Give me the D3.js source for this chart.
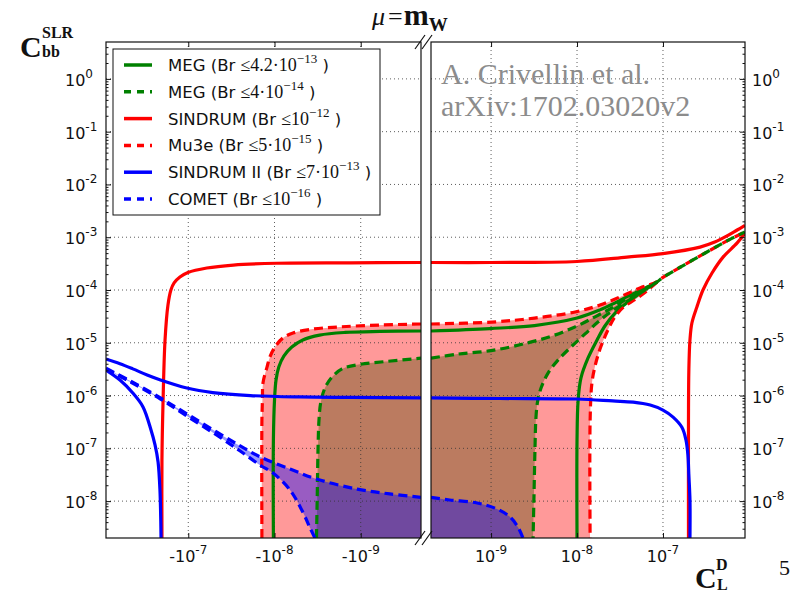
<!DOCTYPE html>
<html>
<head>
<meta charset="utf-8">
<script src="https://cdn.jsdelivr.net/npm/d3@7"></script>
<style>
  body { margin: 0; background: #fff; }
</style>
</head>
<body>
<svg id="chart" width="792" height="594"></svg>
<script>
// ---- values: [C_L^D, C_bb^SLR] ----
var megLeft = [[-1.03e-8, 2e-9], [-1.03e-8, 1.44e-7], [-1.0e-8, 8.2e-7], [-9.6e-9, 1.97e-6], [-8.9e-9, 3.5e-6], [-7.8e-9, 5.6e-6], [-6.3e-9, 8.3e-6], [-4.7e-9, 1.13e-5], [-3.0e-9, 1.4e-5], [-1.52e-9, 1.57e-5], [-6.0e-10, 1.64e-5], [-2e-10, 1.67e-5]];
var megRightUpper = [[2e-10, 1.67e-5], [9.7e-10, 1.86e-5], [3.2e-9, 2.12e-5], [1.0e-8, 2.94e-5], [1.85e-8, 4.2e-5], [2.77e-8, 5.7e-5], [4.1e-8, 7.9e-5], [6.2e-8, 1.08e-4], [8.5e-8, 1.42e-4]];
var megRightLower = [[8.5e-8, 1.42e-4], [5.7e-8, 9.2e-5], [3.9e-8, 5.9e-5], [2.77e-8, 3.66e-5], [2.11e-8, 2.08e-5], [1.71e-8, 1.13e-5], [1.34e-8, 5.1e-6], [1.11e-8, 2.15e-6], [1.03e-8, 8.2e-7], [1.0e-8, 1.44e-7], [1.0e-8, 2e-9]];

var megFutLeft = [[-3.26e-9, 2e-9], [-3.2e-9, 1.05e-8], [-3.13e-9, 9.3e-8], [-3.05e-9, 3.4e-7], [-2.9e-9, 7.6e-7], [-2.6e-9, 1.39e-6], [-2.2e-9, 2.15e-6], [-1.65e-9, 3.2e-6], [-1.02e-9, 3.9e-6], [-5.2e-10, 4.4e-6], [-2e-10, 5.1e-6]];
var megFutRightUpper = [[2e-10, 5.1e-6], [4.1e-10, 6.1e-6], [1.0e-9, 7.1e-6], [2.5e-9, 9.7e-6], [5.1e-9, 1.34e-5], [9.5e-9, 2.0e-5], [1.62e-8, 3.1e-5], [2.55e-8, 4.6e-5], [4.1e-8, 7.4e-5], [6.2e-8, 1.04e-4], [8.5e-8, 1.42e-4]];
var megFutRightLower = [[8.5e-8, 1.42e-4], [6.2e-8, 1.0e-4], [4.1e-8, 6.5e-5], [2.55e-8, 4.0e-5], [1.75e-8, 2.47e-5], [1.24e-8, 1.47e-5], [8.5e-9, 8.3e-6], [6.0e-9, 4.7e-6], [4.6e-9, 2.67e-6], [3.85e-9, 1.45e-6], [3.5e-9, 8.2e-7], [3.33e-9, 3.9e-7], [3.24e-9, 9.3e-8], [3.15e-9, 1.05e-8], [3.08e-9, 2e-9]];

// where the MEG / Mu3e contours pinch together and run on to the edge
var cuspTail = [[8.5e-8, 1.42e-4], [1.0e-7, 1.73e-4], [1.8e-7, 3.04e-4], [3.25e-7, 5.25e-4], [5.55e-7, 8.5e-4], [9e-7, 1.26e-3]];

var sindrumLeft = [[-2.02e-7, 2e-9], [-2.02e-7, 6e-8], [-1.96e-7, 8.2e-7], [-1.86e-7, 1.13e-5], [-1.72e-7, 5.2e-5], [-1.59e-7, 1.0e-4], [-1.46e-7, 1.36e-4], [-1.25e-7, 1.76e-4], [-1.01e-7, 2.14e-4], [-6.1e-8, 2.61e-4], [-3.0e-8, 2.97e-4], [-9.4e-9, 3.21e-4], [-1.3e-9, 3.27e-4], [-2e-10, 3.32e-4]];
var sindrumRightUpper = [[2e-10, 3.32e-4], [1e-9, 3.32e-4], [1e-8, 3.47e-4], [3.8e-8, 4.2e-4], [1e-7, 4.9e-4], [2.7e-7, 6.5e-4], [4.0e-7, 8.1e-4], [5.5e-7, 1.05e-3], [7.3e-7, 1.37e-3], [9e-7, 1.67e-3]];
var sindrumRightLower = [[1.98e-7, 2e-9], [1.98e-7, 3.4e-7], [2.0e-7, 3.05e-6], [2.06e-7, 1.13e-5], [2.17e-7, 2.37e-5], [2.48e-7, 4.77e-5], [2.92e-7, 1.0e-4], [3.72e-7, 2.1e-4], [5.0e-7, 4.2e-4], [7.3e-7, 7.8e-4], [9e-7, 1.2e-3]];

var mu3eLeft = [[-1.40e-8, 2e-9], [-1.40e-8, 3.4e-7], [-1.38e-8, 8.2e-7], [-1.36e-8, 1.73e-6], [-1.22e-8, 3.5e-6], [-1.13e-8, 5.4e-6], [-9.9e-9, 8.3e-6], [-8.0e-9, 1.23e-5], [-6.1e-9, 1.53e-5], [-3.6e-9, 1.82e-5], [-1.74e-9, 2.0e-5], [-6.0e-10, 2.17e-5], [-2e-10, 2.27e-5]];
var mu3eRightUpper = [[2e-10, 2.27e-5], [1.03e-9, 2.47e-5], [3.2e-9, 2.94e-5], [9.5e-9, 3.83e-5], [1.85e-8, 5.2e-5], [3.16e-8, 7.4e-5], [5.4e-8, 1.09e-4], [8.5e-8, 1.42e-4]];
var mu3eRightLower = [[8.5e-8, 1.42e-4], [6.5e-8, 9.6e-5], [4.8e-8, 6.7e-5], [3.5e-8, 4.8e-5], [2.7e-8, 2.94e-5], [2.23e-8, 1.6e-5], [1.85e-8, 7.6e-6], [1.62e-8, 3.6e-6], [1.49e-8, 1.73e-6], [1.42e-8, 3.4e-7], [1.42e-8, 2e-9]];

var sindrum2Upper = [[-9e-7, 4.9e-6], [-6.2e-7, 4.0e-6], [-4.4e-7, 3.2e-6], [-3.0e-7, 2.45e-6], [-2.1e-7, 1.97e-6], [-1.04e-7, 1.39e-6], [-5.2e-8, 1.14e-6], [-1.9e-8, 1.0e-6], [-5.1e-9, 9.4e-7], [-1.3e-9, 9.2e-7], [-2e-10, 9.0e-7]];
var sindrum2Lower = [[-9e-7, 3.05e-6], [-6.2e-7, 1.97e-6], [-4.4e-7, 1.12e-6], [-3.35e-7, 6.1e-7], [-2.7e-7, 2.2e-7], [-2.43e-7, 1.16e-7], [-2.24e-7, 5.5e-8], [-2.13e-7, 1.6e-8], [-2.07e-7, 2e-9]];
var sindrum2Right = [[2e-10, 9.0e-7], [1.27e-9, 8.8e-7], [1.0e-8, 8.6e-7], [2.6e-8, 7.9e-7], [4.5e-8, 7.5e-7], [7.1e-8, 6.6e-7], [1.0e-7, 5.3e-7], [1.31e-7, 3.9e-7], [1.66e-7, 2.5e-7], [1.85e-7, 1.44e-7], [1.95e-7, 7.5e-8], [2.0e-7, 3.1e-8], [2.06e-7, 1.05e-8], [2.06e-7, 2e-9]];

var cometLeftUpper = [[-9e-7, 3.3e-6], [-4.7e-7, 1.89e-6], [-2.1e-7, 9.0e-7], [-1.04e-7, 4.5e-7], [-4.7e-8, 2.04e-7], [-2.5e-8, 1.11e-7], [-1.47e-8, 6.9e-8], [-6.6e-9, 4.05e-8], [-3.2e-9, 2.6e-8], [-1.1e-9, 1.69e-8], [-4.6e-10, 1.37e-8], [-2e-10, 1.18e-8]];
var cometLeftLower = [[-9e-7, 3.2e-6], [-4.7e-7, 1.81e-6], [-2.1e-7, 8.6e-7], [-1.04e-7, 4.1e-7], [-4.7e-8, 1.79e-7], [-2.5e-8, 8.9e-8], [-1.47e-8, 4.8e-8], [-1.04e-8, 3.4e-8], [-6.6e-9, 1.62e-8], [-4.7e-9, 6.2e-9], [-3.9e-9, 3.2e-9], [-3.4e-9, 2e-9]];
var cometRight = [[2e-10, 1.18e-8], [3.3e-10, 1.05e-8], [6.9e-10, 9.2e-9], [1.17e-9, 7.1e-9], [1.66e-9, 5.0e-9], [2.06e-9, 3.2e-9], [2.35e-9, 2e-9]];

// ticks
var yTickExps = [-8, -7, -6, -5, -4, -3, -2, -1, 0];
var xTickExps = [-9, -8, -7];

// legend
var legendNames = ["MEG", "MEG", "SINDRUM", "Mu3e", "SINDRUM II", "COMET"];
var legendBounds = ["4.2\u00b710", "4\u00b710", "10", "5\u00b710", "7\u00b710", "10"];
var legendExps = ["\u221213", "\u221214", "\u221212", "\u221215", "\u221213", "\u221216"];
var legendColors = ["#008000", "#008000", "#ff0000", "#ff0000", "#0000ff", "#0000ff"];
var legendDashed = [false, true, false, true, false, true];

var svg = d3.select("#chart");

var plotTop = 42, plotBottom = 538;
var y = d3.scaleLog().domain([2e-9, 5]).range([plotBottom, plotTop]);
var xLeft = d3.scaleLog().domain([9e-7, 2e-10]).range([106, 421]);   // |C| on the negative side
var xRight = d3.scaleLog().domain([2e-10, 9e-7]).range([431, 745]);

var panels = [
    {id: "pl", x0: 106, x1: 421, sx: function (v) { return xLeft(-v); }, scale: xLeft, corner: [-2e-10, 2e-9]},
    {id: "pr", x0: 431, x1: 745, sx: function (v) { return xRight(v); }, scale: xRight, corner: [2e-10, 2e-9]}
];

var dash = "9,5";
var lw = 3.2;

function makeLine(p) {
    return d3.line()
        .x(function (d) { return p.sx(d[0]); })
        .y(function (d) { return y(d[1]); })
        .curve(d3.curveCatmullRom.alpha(0.5));
}
function part(p, pts, first) {
    var s = makeLine(p)(pts);
    return first ? s : "L" + s.slice(1);
}
function corner(p) {
    return "L" + p.sx(p.corner[0]) + "," + y(p.corner[1]);
}

var defs = svg.append("defs");
panels.forEach(function (p) {
    defs.append("clipPath").attr("id", "clip-" + p.id)
        .append("rect")
        .attr("x", p.x0).attr("y", plotTop)
        .attr("width", p.x1 - p.x0).attr("height", plotBottom - plotTop);
});

var yMinor = [];
for (var k = -9; k <= 0; k++) {
    for (var m = 2; m <= 9; m++) {
        var v = m * Math.pow(10, k);
        if (v > 2e-9 && v < 5) yMinor.push(v);
    }
}

panels.forEach(function (p) {
    var g = svg.append("g").attr("clip-path", "url(#clip-" + p.id + ")");
    var left = p.id === "pl";

    // fills
    var pink, brown, purple;
    if (left) {
        pink = part(p, mu3eLeft, true) + corner(p) + "Z";
        brown = part(p, megFutLeft, true) + corner(p) + "Z";
        purple = part(p, cometLeftUpper, true) + corner(p) +
            part(p, cometLeftLower.slice().reverse(), false) + "Z";
    } else {
        pink = part(p, mu3eRightUpper, true) + part(p, mu3eRightLower.slice(1), false) + corner(p) + "Z";
        brown = part(p, megFutRightUpper, true) + part(p, megFutRightLower.slice(1), false) + corner(p) + "Z";
        purple = part(p, cometRight, true) + corner(p) + "Z";
    }
    g.append("path").attr("d", pink).attr("fill", "#ff9999");
    g.append("path").attr("d", brown).attr("fill", "#bb7b60");
    g.append("path").attr("d", purple).attr("fill", "#0000ff").attr("fill-opacity", 0.4);

    // grid
    var grid = g.append("g").attr("stroke", "#333").attr("stroke-width", 0.8)
        .attr("stroke-dasharray", "1,3").attr("fill", "none");
    yTickExps.forEach(function (e) {
        grid.append("line").attr("x1", p.x0).attr("x2", p.x1)
            .attr("y1", y(Math.pow(10, e))).attr("y2", y(Math.pow(10, e)));
    });
    xTickExps.forEach(function (e) {
        var xp = p.scale(Math.pow(10, e));
        grid.append("line").attr("x1", xp).attr("x2", xp)
            .attr("y1", plotTop).attr("y2", plotBottom);
    });

    // curves
    var ln = makeLine(p);
    var curves = left ? [
        [megLeft, "#008000", false],
        [megFutLeft, "#008000", true],
        [sindrumLeft, "#ff0000", false],
        [mu3eLeft, "#ff0000", true],
        [sindrum2Upper, "#0000ff", false],
        [sindrum2Lower, "#0000ff", false],
        [cometLeftUpper, "#0000ff", true],
        [cometLeftLower, "#0000ff", true]
    ] : [
        [megRightUpper, "#008000", false],
        [megRightLower, "#008000", false],
        [sindrumRightUpper, "#ff0000", false],
        [sindrumRightLower, "#ff0000", false],
        [mu3eRightUpper.concat(cuspTail.slice(1)), "#ff0000", true],
        [mu3eRightLower, "#ff0000", true],
        [megFutRightUpper.concat(cuspTail.slice(1)), "#008000", true],
        [megFutRightLower, "#008000", true],
        [sindrum2Right, "#0000ff", false],
        [cometRight, "#0000ff", true]
    ];
    curves.forEach(function (c) {
        g.append("path").attr("d", ln(c[0]))
            .attr("fill", "none").attr("stroke", c[1]).attr("stroke-width", lw)
            .attr("stroke-dasharray", c[2] ? dash : null);
    });

    // x ticks on top and bottom
    var xt = xTickExps.map(function (e) { return Math.pow(10, e); });
    svg.append("g").attr("transform", "translate(0," + plotBottom + ")")
        .call(d3.axisBottom(p.scale).tickValues(xt).tickSize(-5).tickFormat(""));
    svg.append("g").attr("transform", "translate(0," + plotTop + ")")
        .call(d3.axisTop(p.scale).tickValues(xt).tickSize(-5).tickFormat(""));

    // frame
    svg.append("rect").attr("x", p.x0).attr("y", plotTop)
        .attr("width", p.x1 - p.x0).attr("height", plotBottom - plotTop)
        .attr("fill", "none").attr("stroke", "#111").attr("stroke-width", 1.2);

    // x tick labels
    xTickExps.forEach(function (e) {
        var t = svg.append("text")
            .attr("x", p.scale(Math.pow(10, e))).attr("y", 562)
            .attr("text-anchor", "middle")
            .attr("font-family", "DejaVu Sans").attr("font-size", 16).attr("fill", "#111");
        t.append("tspan").text(left ? "-10" : "10");
        t.append("tspan").attr("dy", -8).attr("font-size", 12).text("-" + (-e));
    });
});

// y ticks on the outer spines
var yt = yTickExps.map(function (e) { return Math.pow(10, e); });
svg.append("g").attr("transform", "translate(106,0)")
    .call(d3.axisLeft(y).tickValues(yt).tickSize(-5).tickFormat(""));
svg.append("g").attr("transform", "translate(106,0)")
    .call(d3.axisLeft(y).tickValues(yMinor).tickSize(-2.5).tickFormat(""));
svg.append("g").attr("transform", "translate(745,0)")
    .call(d3.axisRight(y).tickValues(yt).tickSize(-5).tickFormat(""));
svg.append("g").attr("transform", "translate(745,0)")
    .call(d3.axisRight(y).tickValues(yMinor).tickSize(-2.5).tickFormat(""));
svg.selectAll(".domain").remove();
svg.selectAll(".tick line").attr("stroke", "#111");

// y tick labels, both sides
yTickExps.forEach(function (e) {
    [65, 752].forEach(function (xp) {
        var t = svg.append("text").attr("x", xp).attr("y", y(Math.pow(10, e)) + 7)
            .attr("font-family", "DejaVu Sans").attr("font-size", 16).attr("fill", "#111");
        t.append("tspan").text("10");
        t.append("tspan").attr("dy", -8).attr("font-size", 12).text(e === 0 ? "0" : "-" + (-e));
    });
});

// axis break marks
var brk = svg.append("g").attr("stroke", "#111").attr("stroke-width", 1.2);
[[420, plotTop], [427, plotTop], [420, plotBottom], [427, plotBottom]].forEach(function (c) {
    brk.append("line").attr("x1", c[0] - 5).attr("y1", c[1] + 7)
        .attr("x2", c[0] + 5).attr("y2", c[1] - 7);
});

// legend
var lg = svg.append("g");
lg.append("rect").attr("x", 113).attr("y", 49).attr("width", 267).attr("height", 166)
    .attr("fill", "#fff").attr("stroke", "#111").attr("stroke-width", 1);
legendNames.forEach(function (name, i) {
    var yy = 65 + i * 26.8;
    lg.append("line").attr("x1", 124).attr("x2", 152).attr("y1", yy).attr("y2", yy)
        .attr("stroke", legendColors[i]).attr("stroke-width", 3.5)
        .attr("stroke-dasharray", legendDashed[i] ? "7,6" : null);
    var t = lg.append("text").attr("x", 168).attr("y", yy + 6)
        .attr("font-family", "DejaVu Sans").attr("font-size", 16.5).attr("fill", "#111");
    t.append("tspan").text(name + " (Br ");
    t.append("tspan").attr("font-family", "Liberation Serif").attr("font-size", 18)
        .text("\u2264" + legendBounds[i]);
    t.append("tspan").attr("font-family", "Liberation Serif").attr("font-size", 13)
        .attr("dy", -8).text(legendExps[i]);
    t.append("tspan").attr("dy", 8).text(" )");
});

// watermark
var wm = svg.append("g").attr("font-family", "Liberation Serif").attr("font-size", 30).attr("fill", "#8c8c8c");
wm.append("text").attr("x", 441).attr("y", 84).text("A. Crivellin et al.");
wm.append("text").attr("x", 441).attr("y", 116).text("arXiv:1702.03020v2");

// title  mu = m_W, set as one text line
var tt = svg.append("text").attr("x", 372).attr("y", 25)
    .attr("font-family", "Liberation Serif").attr("font-size", 26).attr("fill", "#111");
tt.append("tspan").attr("font-style", "italic").text("\u03bc");
tt.append("tspan").attr("dx", 3).text("=");
tt.append("tspan").attr("dx", 1).attr("font-size", 30).attr("font-weight", "bold").text("m");
tt.append("tspan").attr("dy", 6).attr("font-size", 19).attr("font-weight", "bold").text("W");

// y label  C_bb^SLR
var yl = svg.append("g").attr("font-family", "Liberation Serif").attr("font-weight", "bold").attr("fill", "#111");
yl.append("text").attr("x", 20).attr("y", 57).attr("font-size", 30).text("C");
yl.append("text").attr("x", 42).attr("y", 38).attr("font-size", 16).text("SLR");
yl.append("text").attr("x", 42).attr("y", 57).attr("font-size", 16).text("bb");

// x label  C_L^D
var xl = svg.append("g").attr("font-family", "Liberation Serif").attr("font-weight", "bold").attr("fill", "#111");
xl.append("text").attr("x", 695).attr("y", 588).attr("font-size", 30).text("C");
xl.append("text").attr("x", 716).attr("y", 570).attr("font-size", 16).text("D");
xl.append("text").attr("x", 717).attr("y", 590).attr("font-size", 16).text("L");

// page number at the right edge
svg.append("text").attr("x", 779).attr("y", 575).attr("font-family", "Liberation Serif")
    .attr("font-size", 22).attr("fill", "#111").text("5");
</script>
</body>
</html>
